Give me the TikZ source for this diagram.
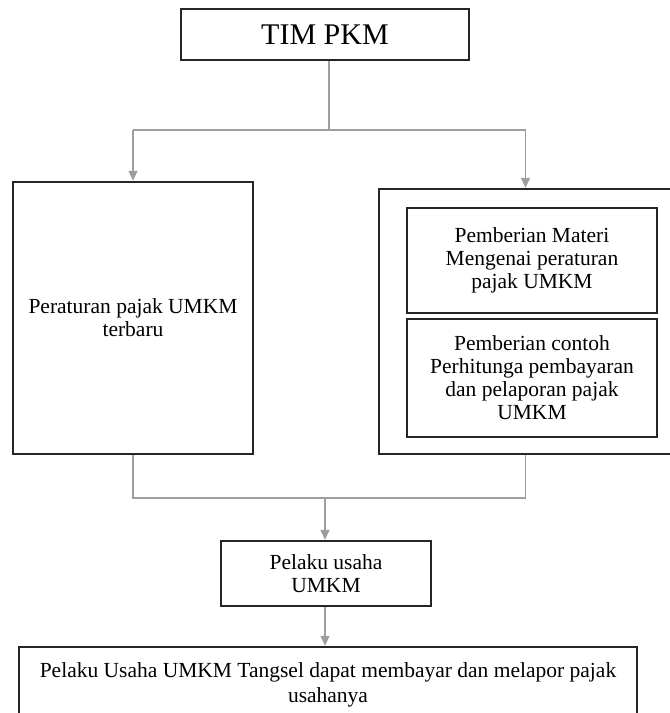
\documentclass[tikz,border=0pt]{standalone}
\usepackage{fontspec}
\setmainfont{Liberation Serif}
\usetikzlibrary{arrows.meta,calc}
\begin{document}
\begin{tikzpicture}[x=1pt,y=-1pt,
  box/.style={draw=black!85,line width=1.4pt,rectangle,inner sep=0pt,align=center,
    font=\fontsize{21.5}{23}\selectfont},
  conn/.style={draw=black!38,line width=1.3pt},
  arr/.style={conn,-{Triangle[length=10pt,width=9pt]},shorten >=0.5pt}]
\clip (0,0) rectangle (670,713);
\fill[white] (0,0) rectangle (670,713);
\node[box,minimum width=288,minimum height=51,font=\fontsize{30}{32}\selectfont] (tim) at (325,34.5) {TIM PKM};
\node[box,minimum width=240,minimum height=272] (left) at (133,318) {Peraturan pajak UMKM\\terbaru};
\node[box,minimum width=300,minimum height=265] (right) at (529,321.5) {};
\node[box,minimum width=250,minimum height=105] (in1) at (532,260.5) {Pemberian Materi\\Mengenai peraturan\\pajak UMKM};
\node[box,minimum width=250,minimum height=118] (in2) at (532,378) {Pemberian contoh\\Perhitunga pembayaran\\dan pelaporan pajak\\UMKM};
\node[box,minimum width=210,minimum height=65] (pel) at (326,573.5) {Pelaku usaha\\UMKM};
\node[box,minimum width=618,minimum height=76,font=\fontsize{21.5}{25}\selectfont] (fin) at (328,685) {Pelaku Usaha UMKM Tangsel dapat membayar dan melapor pajak\\usahanya};
% top split
\coordinate (j1) at (329,130);
\coordinate (jl) at (133,130);
\coordinate (jr) at (525.5,130);
\draw[conn] (tim.south -| j1) -- (j1);
\draw[conn] (jl) -- (jr);
\draw[arr] (jl) -- (jl |- left.north);
\draw[arr] (jr) -- (jr |- right.north);
% bottom merge
\coordinate (kl) at (133,498);
\coordinate (kr) at (525.5,498);
\coordinate (km) at (325,498);
\draw[conn] (left.south -| kl) -- (kl) -- (kr) -- (right.south -| kr);
\draw[arr] (km) -- (km |- pel.north);
\draw[arr] (pel.south -| km) -- (km |- fin.north);
\end{tikzpicture}
\end{document}
